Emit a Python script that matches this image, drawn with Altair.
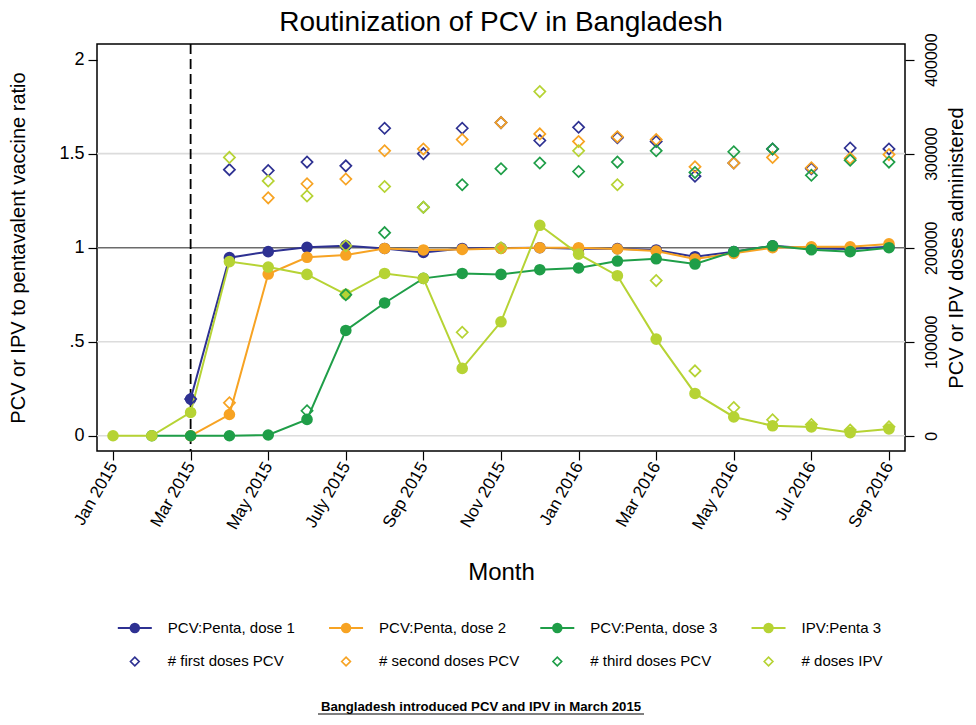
import altair as alt
import pandas as pd

# ---------------- data ----------------
months = ["Jan 2015", "Feb 2015", "Mar 2015", "Apr 2015", "May 2015", "Jun 2015", "Jul 2015",
          "Aug 2015", "Sep 2015", "Oct 2015", "Nov 2015", "Dec 2015", "Jan 2016", "Feb 2016",
          "Mar 2016", "Apr 2016", "May 2016", "Jun 2016", "Jul 2016", "Aug 2016", "Sep 2016"]
tick_labels = ["Jan 2015", "Mar 2015", "May 2015", "July 2015", "Sep 2015", "Nov 2015",
               "Jan 2016", "Mar 2016", "May 2016", "Jul 2016", "Sep 2016"]
tick_positions = [0, 2, 4, 6, 8, 10, 12, 14, 16, 18, 20]

N = None
pcv1_ratio = [N, N, 0.195, 0.947, 0.979, 1.002, 1.01, 0.996, 0.975, 0.996, 0.998, 1.0, 0.995,
              0.995, 0.988, 0.952, 0.979, 1.01, 0.996, 0.993, 1.005]
pcv2_ratio = [N, N, 0.0, 0.113, 0.86, 0.949, 0.961, 0.996, 0.988, 0.991, 0.996, 1.0, 1.0,
              0.993, 0.982, 0.94, 0.97, 1.0, 1.005, 1.005, 1.02]
pcv3_ratio = [N, 0.0, 0.0, 0.0, 0.004, 0.087, 0.56, 0.706, 0.837, 0.863, 0.858, 0.883, 0.892,
              0.929, 0.941, 0.913, 0.979, 1.01, 0.989, 0.979, 1.0]
ipv_ratio = [0.0, 0.0, 0.124, 0.926, 0.897, 0.858, 0.752, 0.863, 0.837, 0.358, 0.606, 1.119,
             0.966, 0.851, 0.514, 0.225, 0.1, 0.053, 0.047, 0.017, 0.036]

first_doses = [N, N, 39000, 283000, 282000, 291000, 287000, 327000, 300000, 327000, 333000,
               314000, 328000, 317000, 313000, 276000, 290000, 305000, 284000, 306000, 305000]
second_doses = [N, N, N, 35000, 253000, 268000, 273000, 303000, 305000, 315000, 333000,
                321000, 313000, 318000, 315000, 286000, 290000, 296000, 285000, 295000, 299000]
third_doses = [N, N, N, N, N, 26600, 150000, 216000, 243000, 267000, 284000, 290000, 281000,
               291000, 303000, 280000, 302000, 305000, 277000, 293000, 291000]
ipv_doses = [N, N, N, 296000, 271000, 255000, 202000, 265000, 243000, 110000, 200000, 366000,
             303000, 267000, 165000, 69000, 30000, 17000, 12000, 6000, 9600]

ratio_series = ["PCV:Penta, dose 1", "PCV:Penta, dose 2", "PCV:Penta, dose 3", "IPV:Penta 3"]
dose_series = ["# first doses PCV", "# second doses PCV", "# third doses PCV", "# doses IPV"]
colors = ["#2e3192", "#f7a323", "#1f9e48", "#b6d334"]

intro_month = [2]          # March 2015
grid_values = [0, 0.5, 1.5]
ref_value = [1]
caption = "Bangladesh introduced PCV and IPV in March 2015"

# legend layout (column / row index)
legend_cols = [0, 1, 2, 3]

FONT = "Liberation Sans"

# ---------------- frames ----------------
ratio_rows = []
for s, vals in zip(ratio_series, [pcv1_ratio, pcv2_ratio, pcv3_ratio, ipv_ratio]):
    for i, v in enumerate(vals):
        if v is not None:
            ratio_rows.append({"series": s, "m": i, "month": months[i], "ratio": v})
ratio_df = pd.DataFrame(ratio_rows)

dose_rows = []
for s, vals in zip(dose_series, [first_doses, second_doses, third_doses, ipv_doses]):
    for i, v in enumerate(vals):
        if v is not None:
            dose_rows.append({"series": s, "m": i, "month": months[i], "doses": v})
dose_df = pd.DataFrame(dose_rows)

label_js = "[" + ",".join("'" + t + "'" for t in tick_labels) + "]"

x_scale = alt.Scale(domain=[-0.413, 20.413], nice=False, zero=False)
y_left = alt.Scale(domain=[-0.081, 2.083], nice=False, zero=False)
y_right = alt.Scale(domain=[-16200, 416600], nice=False, zero=False)

x_axis = alt.Axis(values=tick_positions, labelExpr=label_js + "[datum.value/2]",
                  title="Month", labelAngle=300, labelAlign="right", labelBaseline="middle",
                  labelFontSize=17, labelFont=FONT, labelColor="black", labelPadding=3,
                  tickSize=9, tickColor="black", tickWidth=1.2, domain=False, grid=False,
                  titleFont=FONT, titleFontSize=24, titleFontWeight="normal", titleColor="black",
                  titlePadding=29)
y_axis = alt.Axis(values=[0, 0.5, 1, 1.5, 2],
                  labelExpr="datum.value == 0.5 ? '.5' : format(datum.value, '~g')",
                  title="PCV or IPV to pentavalent vaccine ratio",
                  labelFontSize=18, labelFont=FONT, labelColor="black", labelPadding=4,
                  tickSize=9, tickColor="black", tickWidth=1.2, domain=False, grid=False,
                  titleFont=FONT, titleFontSize=20, titleFontWeight="normal", titleColor="black",
                  titlePadding=30)
y2_axis = alt.Axis(values=[0, 100000, 200000, 300000, 400000], format="d", orient="right",
                   title="PCV or IPV doses administered", labelAngle=270, labelAlign="center",
                   labelBaseline="top", labelFontSize=16, labelFont=FONT, labelColor="black",
                   labelPadding=9, tickSize=9, tickColor="black", tickWidth=1.2, domain=False,
                   grid=False, titleFont=FONT, titleFontSize=20, titleFontWeight="normal",
                   titleColor="black", titleAngle=270, titleBaseline="top", titlePadding=7)

X = alt.X("m:Q", scale=x_scale, axis=x_axis)

grid = alt.Chart(pd.DataFrame({"v": grid_values})).mark_rule(
    color="#dcdcdc", strokeWidth=1.6).encode(y=alt.Y("v:Q", scale=y_left, axis=y_axis))
ref = alt.Chart(pd.DataFrame({"v": ref_value})).mark_rule(
    color="#6b6b6b", strokeWidth=1.6).encode(y=alt.Y("v:Q", scale=y_left, axis=y_axis))
vline = alt.Chart(pd.DataFrame({"m": intro_month})).mark_rule(
    color="black", strokeWidth=1.8, strokeDash=[10, 5]).encode(x=X)

series_layers = []
for s, c in zip(ratio_series, colors):
    base = alt.Chart(ratio_df).transform_filter(alt.datum.series == s)
    series_layers.append(base.mark_line(color=c, strokeWidth=2).encode(
        x=X, y=alt.Y("ratio:Q", scale=y_left, axis=y_axis)))
    series_layers.append(base.mark_circle(color=c, size=135, opacity=1).encode(
        x=X, y=alt.Y("ratio:Q", scale=y_left, axis=y_axis)))

left_layer = alt.layer(grid, ref, vline, *series_layers)

diamonds = alt.Chart(dose_df).mark_point(shape="diamond", filled=False, size=125,
                                         strokeWidth=1.7, opacity=1).encode(
    x=X,
    y=alt.Y("doses:Q", scale=y_right, axis=y2_axis),
    color=alt.Color("series:N", scale=alt.Scale(domain=dose_series, range=colors), legend=None),
)

main = alt.layer(left_layer, diamonds).resolve_scale(y="independent").properties(
    width=808, height=407,
    title=alt.TitleParams("Routinization of PCV in Bangladesh", font=FONT, fontSize=28,
                          fontWeight="normal", color="black", offset=-4),
    view=alt.ViewBackground(stroke="black", strokeWidth=1.5),
)

# ---------------- legend panel ----------------
leg_rows = []
for j, s in enumerate(ratio_series):
    leg_rows.append({"label": s, "col": legend_cols[j], "row": 0})
for j, s in enumerate(dose_series):
    leg_rows.append({"label": s, "col": legend_cols[j], "row": 1})
leg_df = pd.DataFrame(leg_rows)

LEG_H = 125
lx = alt.X("col:Q", scale=alt.Scale(domain=[-0.179, 3.646], nice=False, zero=False), axis=None)
ly = alt.Y("row:Q", scale=alt.Scale(domain=[-1.254, 2.478], nice=False, zero=False,
                                    reverse=True), axis=None)
lcolor = alt.Color("label:N", scale=alt.Scale(domain=ratio_series + dose_series,
                                              range=colors + colors), legend=None)

leg_base = alt.Chart(leg_df)
leg_lines = leg_base.transform_filter(alt.datum.row == 0).mark_rule(
    strokeWidth=2, xOffset=-17, x2Offset=17).encode(x=lx, x2="col:Q", y=ly, color=lcolor)
leg_dots = leg_base.transform_filter(alt.datum.row == 0).mark_circle(
    size=110, opacity=1).encode(x=lx, y=ly, color=lcolor)
leg_diam = leg_base.transform_filter(alt.datum.row == 1).mark_point(
    shape="diamond", filled=False, size=75, strokeWidth=1.7, opacity=1).encode(
    x=lx, y=ly, color=lcolor)
leg_text = leg_base.mark_text(align="left", baseline="middle", dx=33, font=FONT,
                              fontSize=15, color="black").encode(x=lx, y=ly, text="label:N")
cap_text = alt.Chart(pd.DataFrame({"t": [caption]})).mark_text(
    align="center", baseline="middle", font=FONT, fontSize=13.2, fontWeight="bold",
    color="black").encode(x=alt.value(384), y=alt.value(121), text="t:N")
cap_line = alt.Chart(pd.DataFrame({"t": [caption]})).mark_rule(
    color="black", strokeWidth=1).encode(x=alt.value(221), x2=alt.value(547), y=alt.value(128))

legend_panel = alt.layer(leg_lines, leg_dots, leg_diam, leg_text, cap_text, cap_line).properties(
    width=808, height=LEG_H, view=alt.ViewBackground(stroke=None))

chart = alt.vconcat(main, legend_panel, spacing=0).properties(
    padding=0, background="white").configure_view(stroke=None)

chart.save("out.html", embed_options={"renderer": "svg", "actions": False})
